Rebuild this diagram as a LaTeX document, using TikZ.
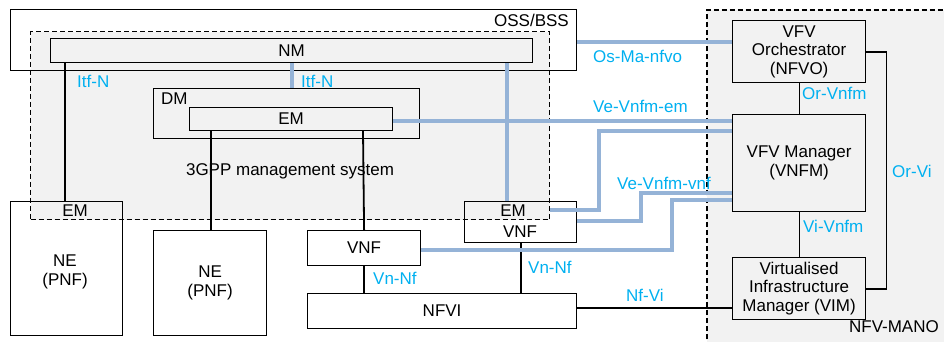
\documentclass[tikz,border=0pt]{standalone}
\usepackage{fontspec}
\setmainfont{Liberation Sans}
\definecolor{greyfill}{HTML}{F2F2F2}
\definecolor{ifblue}{HTML}{95B3D7}
\definecolor{lblcol}{HTML}{00B0F0}
\begin{document}
\begin{tikzpicture}[x=1pt,y=-1pt,
  box/.style={draw, line width=1.2pt, inner sep=0pt, anchor=north west, align=center, font=\fontsize{17}{18.5}\selectfont},
  gbox/.style={box, fill=greyfill},
  txt/.style={inner sep=0pt, align=center, font=\fontsize{17}{18.5}\selectfont},
  lbl/.style={txt, text=lblcol, anchor=west},
  iface/.style={line width=4pt, draw=ifblue},
  conn/.style={line width=1.8pt},
  thinconn/.style={line width=1.2pt},
  regionline/.style={line width=1.1pt, dash pattern=on 5pt off 3pt}]
\useasboundingbox (0,0) rectangle (944,342);
\clip (0,0) rectangle (944,342);
% NFV-MANO region
\node[inner sep=0pt, anchor=north west, fill=greyfill, minimum width=260pt, minimum height=345pt] (mano) at (707,10) {};
\draw[regionline] (mano.south west) -- (mano.north west) -- (mano.north east);
\node[txt, anchor=east] (manolbl) at (939,327) {NFV-MANO};
% 3GPP management system region
\node[draw, regionline, fill=greyfill, inner sep=0pt, anchor=north west, minimum width=519pt, minimum height=188pt] (mgmt) at (30,31) {};
\node[txt] (mgmtlbl) at (290,171) {3GPP management system};
% OSS/BSS
\node[box, minimum width=566pt, minimum height=61pt] (oss) at (10,9) {};
\node[txt, anchor=east] (osslbl) at (569,20) {OSS/BSS};
% NM, DM, EM
\node[gbox, minimum width=482pt, minimum height=24pt] (nm) at (50,38) {NM};
\node[gbox, minimum width=266pt, minimum height=50pt] (dm) at (153,88) {};
\node[txt, anchor=west] (dmlbl) at (161,99) {DM};
\node[gbox, minimum width=203pt, minimum height=23pt] (em) at (189,107) {EM};
% NEs
\node[box, minimum width=112pt, minimum height=134pt] (ne1) at (10,201) {};
\node[txt] (ne1em) at (75,211) {EM};
\node[txt] (ne1txt) at (65,272) {NE\\(PNF)};
\node[box, minimum width=113pt, minimum height=105pt] (ne2) at (153,230) {NE\\(PNF)};
% VNFs
\node[box, minimum width=113pt, minimum height=35pt] (vnf) at (307,230) {VNF};
\node[box, minimum width=112pt, minimum height=41pt] (emvnf) at (464,201) {};
\node[txt] (emvnfem) at (513,211) {EM};
\node[txt] (emvnfvnf) at (520,232) {VNF};
\node[box, minimum width=269pt, minimum height=35pt] (nfvi) at (307,293) {NFVI};
% MANO boxes
\node[gbox, minimum width=133pt, minimum height=62pt] (nfvo) at (732,20) {VFV\\Orchestrator\\(NFVO)};
\node[gbox, minimum width=133pt, minimum height=97pt] (vnfm) at (732,114) {VFV Manager\\(VNFM)};
\node[gbox, minimum width=133pt, minimum height=62pt] (vim) at (732,257) {Virtualised\\Infrastructure\\Manager (VIM)};
% black connectors
\draw[conn] ([xshift=15pt]nm.south west) -- ([xshift=55pt]ne1.north west);
\draw[conn] ([xshift=22pt]em.south west) -- ([xshift=58pt]ne2.north west);
\draw[conn] ([xshift=174pt]em.south west) -- (vnf.north);
\draw[conn] (vnf.south) -- (vnf.south |- nfvi.north);
\draw[conn] (emvnf.south) -- (emvnf.south |- nfvi.north);
\draw[conn] ([yshift=3.5pt]nfvi.east) -- ([yshift=-19pt]vim.west);
\draw[thinconn] (nfvo.south) -- (vnfm.north);
\draw[thinconn] (vnfm.south) -- (vim.north);
\draw[thinconn] ([yshift=-32pt]nfvo.north east) -- ++(20,0) |- ([yshift=-32pt]vim.north east);
% blue interfaces
\draw[iface] ([xshift=242pt]nm.south west) -- ([xshift=139pt]dm.north west);
\draw[iface] ([xshift=457pt]nm.south west) -- ([xshift=43pt]emvnf.north west);
\draw[iface] ([yshift=-33pt]oss.north east) -- ([yshift=-22pt]nfvo.north west);
\draw[iface] ([yshift=-14pt]em.north east) -- ([yshift=-7pt]vnfm.north west);
\draw[iface] ([xshift=86pt,yshift=-9pt]emvnf.north west) -- ++(49,0) |- ([yshift=-17pt]vnfm.north west);
\draw[iface] ([yshift=-20pt]emvnf.north east) -- ++(64,0) |- ([yshift=-79pt]vnfm.north west);
\draw[iface] ([yshift=-20pt]vnf.north east) -- ++(251,0) |- ([yshift=-86pt]vnfm.north west);
% labels
\node[lbl] (l1) at (77,81) {Itf-N};
\node[lbl] (l2) at (301,81) {Itf-N};
\node[lbl] (l3) at (373,278) {Vn-Nf};
\node[lbl] (l4) at (528,267) {Vn-Nf};
\node[lbl] (l5) at (593,56) {Os-Ma-nfvo};
\node[lbl] (l6) at (593,106) {Ve-Vnfm-em};
\node[lbl] (l7) at (617,183) {Ve-Vnfm-vnf};
\node[lbl] (l8) at (626,295) {Nf-Vi};
\node[lbl] (l9) at (802,93) {Or-Vnfm};
\node[lbl] (l10) at (803,226) {Vi-Vnfm};
\node[lbl] (l11) at (892,171) {Or-Vi};
\end{tikzpicture}
\end{document}
